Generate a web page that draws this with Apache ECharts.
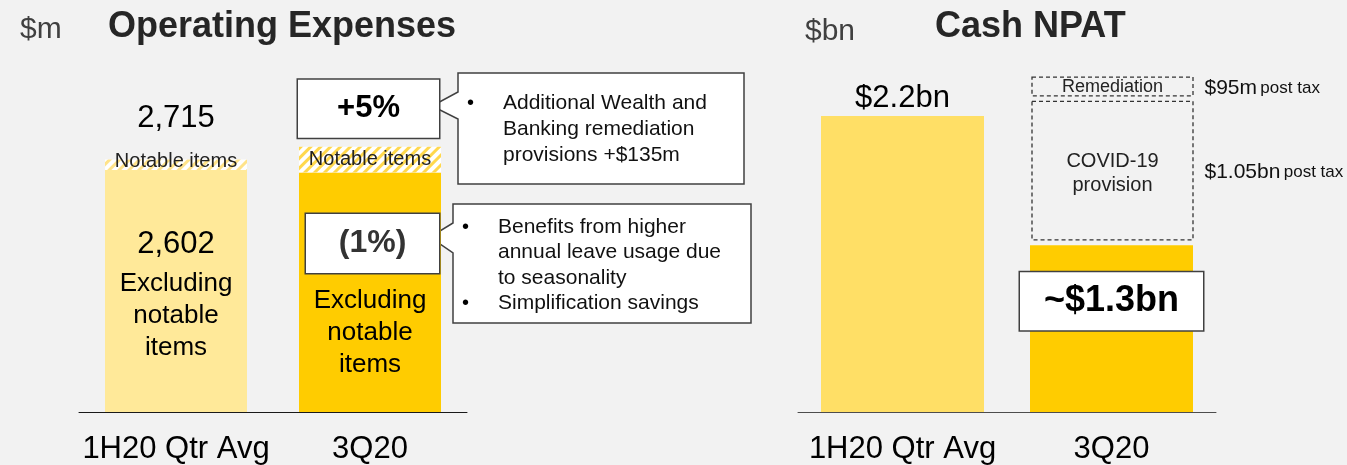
<!DOCTYPE html>
<html>
<head>
<meta charset="utf-8">
<script src="https://cdn.jsdelivr.net/npm/echarts@6/dist/echarts.min.js"></script>
<style>
  html, body { margin: 0; padding: 0; background: #f2f2f2; }
  #chart { width: 1347px; height: 465px; }
</style>
</head>
<body>
<div id="chart"></div>
<script>
// Operating expenses ($m)
const opexCategories = ['1H20 Qtr Avg', '3Q20'];
const opexExNotable = [2602, 2576];
const opexNotable = [113, 275];
const opexTotal = [2715, 2851];
const opexTotalLabels = ['2,715', '+5%'];
const opexExLabels = ['2,602', '(1%)'];

// Cash NPAT ($bn)
const npatCategories = ['1H20 Qtr Avg', '3Q20'];
const npatValues = [2.2, 1.24];
const npatLabels = ['$2.2bn', '~$1.3bn'];
const npatBoxLow = [1.28, 2.35];
const npatBoxHigh = [2.31, 2.49];
const npatBoxNames = ['COVID-19\nprovision', 'Remediation'];
const npatBoxNotes = ['$1.05bn', '$95m'];

// callout texts
const calloutUp = [['Additional Wealth and', 'Banking remediation', 'provisions +$135m']];
const calloutDown = [['Benefits from higher', 'annual leave usage due', 'to seasonality'], ['Simplification savings']];

const FONT = "'Liberation Sans', Arial, sans-serif";
const chart = echarts.init(document.getElementById('chart'));

const stripe = (c) => ({
    symbol: 'rect',
    symbolSize: 1,
    color: c,
    dashArrayX: [1, 0],
    dashArrayY: [3, 4],
    rotation: -Math.PI / 4
});

// callout bubble text lines as graphic texts
function bulletTexts(groups, x0, xt, y0, lh) {
    const out = [];
    let y = y0;
    groups.forEach(lines => {
        out.push({ type: 'text', x: x0, y: y, style: { text: '•', font: '20px ' + FONT, fill: '#000', verticalAlign: 'middle' } });
        lines.forEach(l => {
            out.push({ type: 'text', x: xt, y: y, style: { text: l, font: '21px ' + FONT, fill: '#111', verticalAlign: 'middle' } });
            y += lh;
        });
    });
    return out;
}

const boxLabel = {
    show: true, position: 'inside', fontWeight: 'bold', fontFamily: FONT,
    backgroundColor: '#fff', borderColor: '#404040', borderWidth: 1.5,
    align: 'center', padding: 0, opacity: 1
};

const option = {
    backgroundColor: '#f2f2f2',
    animation: false,
    textStyle: { fontFamily: FONT },
    grid: [
        { left: 79, right: 880, top: 40, bottom: 53 },
        { left: 798, right: 131, top: 8.5, bottom: 53 }
    ],
    xAxis: [
        {
            type: 'category', gridIndex: 0, data: opexCategories,
            axisLine: { lineStyle: { color: '#1a1a1a', width: 1 } },
            axisTick: { show: false },
            axisLabel: { interval: 0, fontSize: 31, color: '#000', margin: 22, fontFamily: FONT }
        },
        {
            type: 'category', gridIndex: 1, data: npatCategories,
            axisLine: { lineStyle: { color: '#4d4d4d', width: 1 } },
            axisTick: { show: false },
            axisLabel: { interval: 0, fontSize: 31, color: '#000', margin: 22, fontFamily: FONT }
        }
    ],
    yAxis: [
        { type: 'value', gridIndex: 0, min: 0, max: 4000, show: false },
        { type: 'value', gridIndex: 1, min: 0, max: 3, show: false }
    ],
    series: [
        {
            name: 'Excluding notable items',
            type: 'bar', stack: 'opex', xAxisIndex: 0, yAxisIndex: 0,
            barWidth: 142,
            data: opexExNotable.map((v, i) => ({
                value: v,
                itemStyle: { color: i === 0 ? '#FFE999' : '#FFCC00' },
                label: {
                    show: true, position: 'inside',
                    offset: i === 0 ? [0, 1] : [0, 41],
                    formatter: i === 0
                        ? '{v|' + opexExLabels[0] + '}\n{t|Excluding}\n{t|notable}\n{t|items}'
                        : '{t|Excluding}\n{t|notable}\n{t|items}',
                    rich: {
                        v: { fontSize: 31, lineHeight: 48, color: '#000', fontFamily: FONT },
                        t: { fontSize: 26, lineHeight: 32, color: '#000', fontFamily: FONT }
                    }
                }
            }))
        },
        {
            name: 'Notable items',
            type: 'bar', stack: 'opex', xAxisIndex: 0, yAxisIndex: 0,
            barWidth: 142,
            data: opexNotable.map((v, i) => ({
                value: v,
                itemStyle: { color: '#ffffff', decal: stripe(i === 0 ? '#FFE38A' : '#FFD84D') },
                label: {
                    show: true, position: 'inside', offset: i === 0 ? [0, -3] : [0, 0],
                    formatter: 'Notable items', fontSize: 20, color: '#222', fontFamily: FONT
                }
            }))
        },
        {
            name: 'Total',
            type: 'scatter', xAxisIndex: 0, yAxisIndex: 0,
            symbolSize: 0, silent: true,
            itemStyle: { opacity: 1 },
            data: opexTotal.map((v, i) => ({
                value: [i, v],
                label: i === 0 ? {
                    show: true, position: 'inside', offset: [0, -41], opacity: 1,
                    formatter: opexTotalLabels[0], fontSize: 31, color: '#000', fontFamily: FONT
                } : Object.assign({}, boxLabel, {
                    offset: [-1.5, -38], formatter: opexTotalLabels[1],
                    fontSize: 31, color: '#000', width: 141, height: 58, lineHeight: 58
                })
            }))
        },
        {
            name: 'Change excluding notable',
            type: 'scatter', xAxisIndex: 0, yAxisIndex: 0,
            symbolSize: 0, silent: true,
            itemStyle: { opacity: 1 },
            data: [{
                value: [1, opexExNotable[1]],
                label: Object.assign({}, boxLabel, {
                    offset: [2.5, 71], formatter: opexExLabels[1],
                    fontSize: 32, color: '#333', width: 133, height: 59, lineHeight: 59
                })
            }]
        },
        {
            name: 'Cash NPAT',
            type: 'bar', xAxisIndex: 1, yAxisIndex: 1,
            barWidth: 163,
            data: npatValues.map((v, i) => ({
                value: v,
                itemStyle: { color: i === 0 ? '#FFDF66' : '#FFCC00' },
                label: i === 0 ? {
                    show: true, position: 'top', distance: 2,
                    formatter: npatLabels[0], fontSize: 31, color: '#000', fontFamily: FONT
                } : Object.assign({}, boxLabel, {
                    position: 'insideTop', distance: 27, formatter: npatLabels[1],
                    fontSize: 36, color: '#000', width: 183, height: 58, lineHeight: 58
                })
            }))
        },
        {
            name: 'Provisions',
            type: 'custom', xAxisIndex: 1, yAxisIndex: 1,
            data: npatBoxLow.map((lo, i) => [1, lo, npatBoxHigh[i], i]),
            renderItem: function (params, api) {
                const i = api.value(3);
                const lo = api.coord([api.value(0), api.value(1)]);
                const hi = api.coord([api.value(0), api.value(2)]);
                const mid = (lo[1] + hi[1]) / 2;
                const w = 161;
                return {
                    type: 'group',
                    children: [
                        {
                            type: 'rect',
                            shape: { x: lo[0] - w / 2 + 1, y: hi[1], width: w, height: lo[1] - hi[1] },
                            style: { fill: 'none', stroke: '#333', lineWidth: 1.3, lineDash: [4, 3] }
                        },
                        {
                            type: 'text',
                            style: {
                                text: npatBoxNames[i], x: lo[0] + 1, y: mid + (i === 0 ? 3 : 1),
                                align: 'center', verticalAlign: 'middle',
                                font: (i === 0 ? '20px ' : '18px ') + FONT, fill: '#222', lineHeight: 24
                            }
                        },
                        {
                            type: 'text',
                            style: {
                                text: '{a|' + npatBoxNotes[i] + '} {b|post tax}',
                                x: lo[0] + 93, y: mid + 2, verticalAlign: 'middle',
                                rich: {
                                    a: { fontSize: 21, fontFamily: FONT, fill: '#111' },
                                    b: { fontSize: 17, fontFamily: FONT, fill: '#111' }
                                }
                            }
                        }
                    ]
                };
            }
        }
    ],
    graphic: [
        { type: 'text', x: 20, y: 30, style: { text: '$m', font: '30px ' + FONT, fill: '#404040', verticalAlign: 'middle' } },
        { type: 'text', x: 108, y: 27, style: { text: 'Operating Expenses', font: 'bold 36px ' + FONT, fill: '#262626', verticalAlign: 'middle' } },
        { type: 'text', x: 805, y: 32, style: { text: '$bn', font: '30px ' + FONT, fill: '#404040', verticalAlign: 'middle' } },
        { type: 'text', x: 935, y: 27, style: { text: 'Cash NPAT', font: 'bold 36px ' + FONT, fill: '#262626', verticalAlign: 'middle' } },
        {
            type: 'polygon',
            shape: { points: [[458, 73], [744, 73], [744, 184], [458, 184], [458, 119], [432, 106], [458, 92]] },
            style: { fill: '#fff', stroke: '#404040', lineWidth: 1.5 }
        },
        {
            type: 'polygon',
            shape: { points: [[453, 204], [751, 204], [751, 323], [453, 323], [453, 253], [430, 237], [453, 223]] },
            style: { fill: '#fff', stroke: '#404040', lineWidth: 1.5 }
        }
    ].concat(bulletTexts(calloutUp, 467, 503, 103, 26))
     .concat(bulletTexts(calloutDown, 462, 498, 227, 25.5))
};

chart.setOption(option);
</script>
</body>
</html>
